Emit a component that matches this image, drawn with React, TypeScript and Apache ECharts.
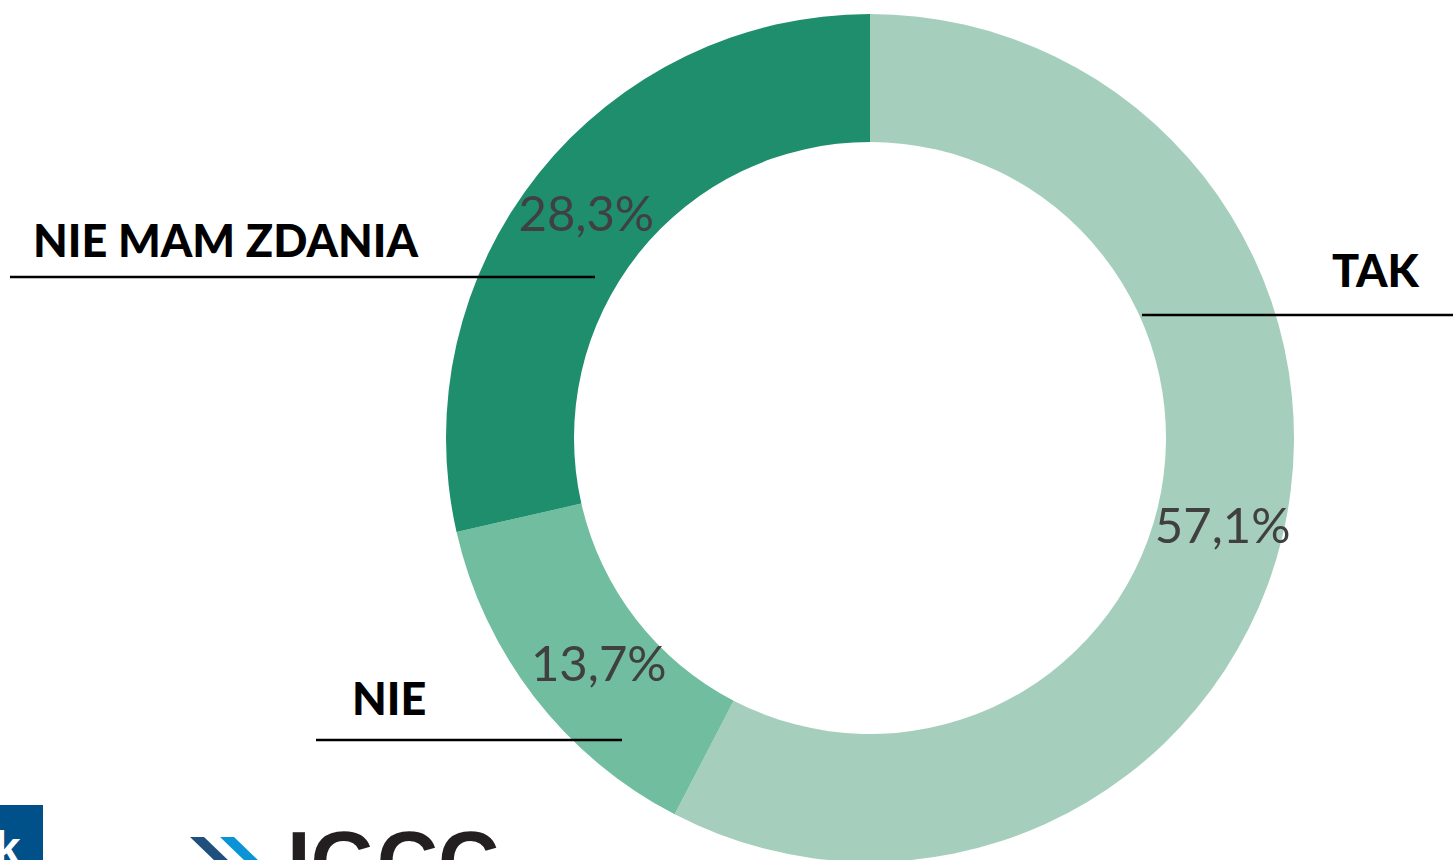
import React, { useEffect, useRef } from "react";
import * as echarts from "echarts";

const categories = ["TAK", "NIE", "NIE MAM ZDANIA"];
const values = [57.1, 13.7, 28.3];
const colors = ["#a5cfbc", "#70bd9f", "#1f8e6d"];

export default function App() {
  const ref = useRef<HTMLDivElement>(null);
  useEffect(() => {
    if (!ref.current) return;
    const chart = echarts.init(ref.current, undefined, { renderer: "svg" });
    const boldFont = { fontFamily: "Lato", fontWeight: 900, fontSize: 45, fill: "#000" };
    const lineStyle = { stroke: "#000", lineWidth: 2.5 };
    chart.setOption({
      animation: false,
      backgroundColor: "#fff",
      series: [
        {
          type: "pie",
          center: [870, 438],
          radius: [296, 424],
          startAngle: 90,
          clockwise: true,
          silent: true,
          z: 1,
          data: categories.map((c, i) => ({
            name: c,
            value: values[i],
            itemStyle: { color: colors[i] },
            label: i === 1 ? { offset: [16, 2] } : undefined,
          })),
          label: {
            show: true,
            position: "inside",
            formatter: (p: any) => p.value.toFixed(1).replace(".", ",") + "%",
            color: "#404040",
            fontFamily: "Lato",
            fontSize: 49,
            fontWeight: "normal",
          },
          labelLine: { show: false },
        },
      ],
      graphic: [
        { type: "text", z: 100, x: 1332, y: 270, style: { ...boldFont, text: categories[0], textVerticalAlign: "middle" } },
        { type: "line", z: 100, shape: { x1: 1142, y1: 315, x2: 1453, y2: 315 }, style: lineStyle },
        { type: "text", z: 100, x: 33, y: 240, style: { ...boldFont, text: categories[2], textVerticalAlign: "middle" } },
        { type: "line", z: 100, shape: { x1: 10, y1: 277, x2: 595, y2: 277 }, style: lineStyle },
        { type: "text", z: 100, x: 352, y: 698, style: { ...boldFont, text: categories[1], textVerticalAlign: "middle" } },
        { type: "line", z: 100, shape: { x1: 316, y1: 740, x2: 622, y2: 740 }, style: lineStyle },
        // logos at bottom
        { type: "rect", z: 100, shape: { x: 0, y: 805, width: 43, height: 60 }, style: { fill: "#00508a" } },
        { type: "text", z: 100, x: -6, y: 824, style: { text: "k", fill: "#fff", fontFamily: "Liberation Sans", fontWeight: "bold", fontSize: 48 } },
        { type: "polygon", z: 100, shape: { points: [[190, 837], [204, 837], [230, 862], [216, 862]] }, style: { fill: "#1f4f7d" } },
        { type: "polygon", z: 100, shape: { points: [[220, 837], [234, 837], [260, 862], [246, 862]] }, style: { fill: "#0a94d6" } },
        { type: "text", z: 100, x: 287, y: 819, style: { text: "IGCC", fill: "#231f20", fontFamily: "Liberation Sans", fontWeight: "bold", fontSize: 85 } },
      ],
    });
    return () => chart.dispose();
  }, []);
  return <div ref={ref} style={{ position: "fixed", left: 0, top: 0, width: 1453, height: 860 }} />;
}
